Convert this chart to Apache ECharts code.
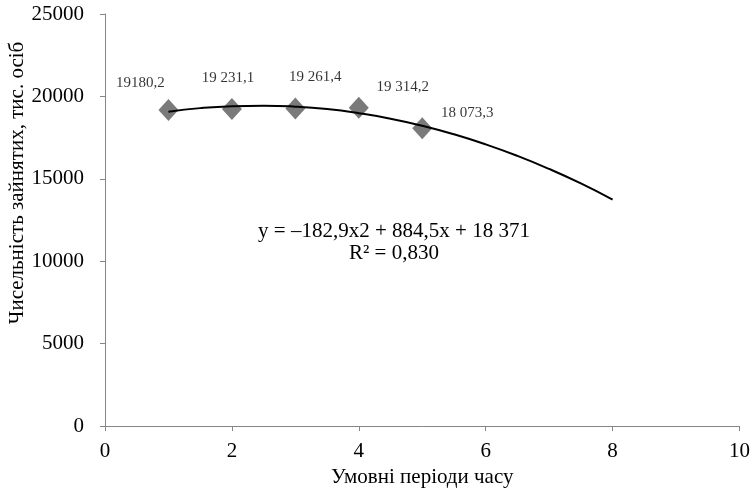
<!DOCTYPE html>
<html><head><meta charset="utf-8">
<script src="https://cdn.jsdelivr.net/npm/echarts@6/dist/echarts.min.js"></script>
<style>html,body{margin:0;padding:0;background:#fff}#c{width:753px;height:493px}</style>
</head><body><div id="c"></div>
<script>
const periods = [1, 2, 3, 4, 5];
const employed = [19180.2, 19231.1, 19261.4, 19314.2, 18073.3];
const pointLabels = ['19180,2', '19 231,1', '19 261,4', '19 314,2', '18 073,3'];
const trendX = [1, 1.5, 2, 2.5, 3, 3.5, 4, 4.5, 5, 5.5, 6, 6.5, 7, 7.5, 8];
const trendY = [19070, 19290, 19410, 19440, 19380, 19230, 18980, 18650, 18220, 17700, 17090, 16390, 15600, 14720, 13740];
const xTicks = [0, 2, 4, 6, 8, 10];
const yTicks = [0, 5000, 10000, 15000, 20000, 25000];
const xTitle = 'Умовні періоди часу';
const yTitle = 'Чисельність зайнятих, тис. осіб';
const equationText = 'y = \u2013182,9x2 + 884,5x + 18 371';
const r2Text = 'R\u00b2 = 0,830';

const labelOffsets = [[-28, -3], [-4, -8], [20, -8], [44, 3], [45, 8]];
const font = '"Liberation Serif", "Times New Roman", serif';
const chart = echarts.init(document.getElementById('c'));
chart.setOption({
  animation: false,
  grid: {left: 105, right: 13, top: 14, bottom: 66},
  xAxis: {
    type: 'value', min: xTicks[0], max: xTicks[xTicks.length - 1], interval: 2,
    name: xTitle, nameLocation: 'middle', nameGap: 40,
    nameTextStyle: {fontFamily: font, fontSize: 21, color: '#000'},
    axisLine: {show: true, lineStyle: {color: '#868686', width: 1}},
    axisTick: {show: true, length: 5, lineStyle: {color: '#868686'}},
    axisLabel: {fontFamily: font, fontSize: 21, color: '#000', margin: 15,
      formatter: v => String(v)},
    splitLine: {show: false}
  },
  yAxis: {
    type: 'value', min: yTicks[0], max: yTicks[yTicks.length - 1], interval: 5000,
    axisLine: {show: true, lineStyle: {color: '#868686', width: 1}},
    axisTick: {show: true, length: 5, lineStyle: {color: '#868686'}},
    axisLabel: {fontFamily: font, fontSize: 21, color: '#000', margin: 21,
      formatter: v => String(v)},
    splitLine: {show: false}
  },
  graphic: [
    {type: 'text', x: 17, y: 183, rotation: Math.PI / 2,
      style: {text: yTitle, font: '21px ' + font, fill: '#000', align: 'center', verticalAlign: 'middle'}},
    {type: 'text', x: 394, y: 231, style: {text: equationText, font: '21px ' + font, fill: '#000', align: 'center', verticalAlign: 'middle'}},
    {type: 'text', x: 394, y: 253, style: {text: r2Text, font: '21px ' + font, fill: '#000', align: 'center', verticalAlign: 'middle'}}
  ],
  series: [
    {
      type: 'line', data: trendX.map((x, i) => [x, trendY[i]]), smooth: true,
      showSymbol: false, lineStyle: {color: '#000', width: 2}, z: 3
    },
    {
      type: 'scatter', symbol: 'diamond', symbolSize: [20, 22],
      itemStyle: {color: '#595959'}, z: 2,
      data: periods.map((x, i) => ({
        value: [x, employed[i]],
        label: {show: true, formatter: pointLabels[i], position: 'top', offset: labelOffsets[i],
          fontFamily: font, fontSize: 15, color: '#000'}
      }))
    }
  ]
});
</script></body></html>
